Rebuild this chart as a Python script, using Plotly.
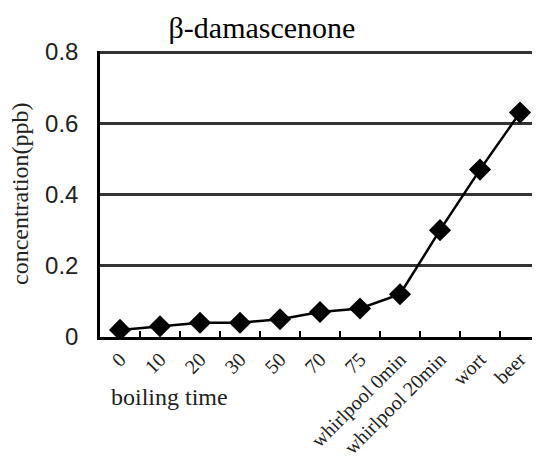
import plotly.graph_objects as go

categories = ["0", "10", "20", "30", "50", "70", "75", "whirlpool 0min", "whirlpool 20min", "wort", "beer"]
concentration = [0.02, 0.03, 0.04, 0.04, 0.05, 0.07, 0.08, 0.12, 0.30, 0.47, 0.63]
y_ticks = [0, 0.2, 0.4, 0.6, 0.8]
y_tick_labels = ["0", "0.2", "0.4", "0.6", "0.8"]

serif = "Liberation Serif, Times New Roman, serif"
sans = "Liberation Sans, Arial, sans-serif"

# page body adds an 8px offset; figure coordinates compensate for it
W, H = 532, 449
L, T, B = 92, 43, 120

fig = go.Figure()
fig.add_trace(go.Scatter(
    x=categories, y=concentration, mode="lines+markers",
    line=dict(color="black", width=2.5),
    marker=dict(symbol="diamond", size=17, color="black"),
    showlegend=False,
))

fig.update_layout(
    width=W, height=H,
    margin=dict(l=L, r=0, t=T, b=B),
    paper_bgcolor="white", plot_bgcolor="white",
    title=dict(text="β-damascenone", x=254/W, xref="container", xanchor="center",
               y=1-19/H, yref="container", yanchor="middle",
               font=dict(family=serif, size=30, color="black")),
    xaxis=dict(type="category", showgrid=False, showline=True, linecolor="black", linewidth=2.5,
               ticks="inside", tickson="boundaries", ticklen=6, tickwidth=2, tickcolor="black",
               tickangle=-45, tickfont=dict(family=serif, size=20, color="#222"),
               ticklabelstandoff=0, range=[-0.5, 10.5], zeroline=False, automargin=False),
    yaxis=dict(range=[0, 0.803], tickvals=y_ticks, ticktext=y_tick_labels,
               showgrid=True, gridcolor="#333", gridwidth=3,
               showline=True, linecolor="black", linewidth=2.5, zeroline=False,
               ticks="", tickfont=dict(family=sans, size=24, color="#222"),
               ticklabelstandoff=14, automargin=False),
)

plot_w = W - L
plot_h = H - T - B
fig.add_annotation(text="concentration(ppb)", xref="paper", yref="paper",
                   x=(12-L)/plot_w, y=0.5, textangle=-90, showarrow=False,
                   xanchor="center", yanchor="middle",
                   font=dict(family=serif, size=24, color="#222"))
fig.add_annotation(text="boiling time", xref="paper", yref="paper",
                   x=(161-L)/plot_w, y=-60/plot_h, showarrow=False,
                   xanchor="center", yanchor="middle",
                   font=dict(family=serif, size=24, color="#222"))

fig.write_html("out.html")
